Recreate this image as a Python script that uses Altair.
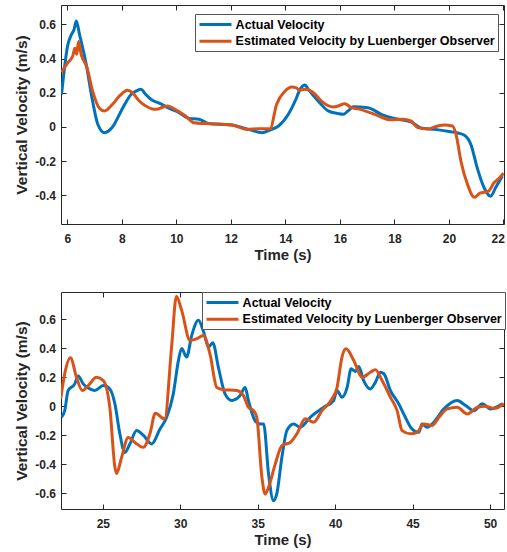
import altair as alt
import pandas as pd

SERIES = ["Actual Velocity", "Estimated Velocity by Luenberger Observer"]
BLUE = "#0072BD"
ORANGE = "#D95319"

# ---------------- top panel ----------------
top_actual_t = [5.79, 6.02, 6.15, 6.25, 6.33, 6.45, 6.69, 6.93, 7.12, 7.36, 7.66, 8.03, 8.34, 8.52,
                8.70, 8.88, 9.12, 9.37, 9.73, 10.10, 10.46, 10.83, 11.19, 12.04, 12.65, 13.14, 13.5,
                13.75, 14.11, 14.36, 14.54, 14.72, 14.84, 15.2, 15.57, 15.94, 16.12, 16.3, 16.49,
                17.03, 17.52, 18.0, 18.61, 18.98, 19.47, 19.95, 20.33, 20.57, 20.8, 21.04, 21.29,
                21.53, 21.71, 21.96]
top_actual_v = [0.19, 0.48, 0.54, 0.57, 0.62, 0.54, 0.37, 0.15, 0.016, -0.033, 0.0, 0.11, 0.19, 0.21,
                0.22, 0.19, 0.156, 0.14, 0.11, 0.084, 0.05, 0.045, 0.02, 0.012, -0.014, -0.033, -0.014,
                0.006, 0.074, 0.152, 0.22, 0.245, 0.22, 0.152, 0.094, 0.078, 0.074, 0.094, 0.118,
                0.113, 0.074, 0.05, 0.03, -0.006, -0.014, -0.025, -0.035, -0.048, -0.1, -0.24, -0.355,
                -0.405, -0.355, -0.286]

top_est_t = [5.79, 6.02, 6.2, 6.28, 6.35, 6.41, 6.51, 6.72, 6.93, 7.18, 7.36, 7.66, 7.91, 8.21, 8.39,
             8.64, 8.88, 9.25, 9.67, 9.98, 10.34, 10.65, 11.07, 12.04, 12.6, 13.0, 13.44, 13.68, 13.99,
             14.23, 14.42, 14.5, 14.72, 15.03, 15.33, 15.76, 15.94, 16.18, 16.42, 16.67, 17.28, 17.85,
             18.3, 18.61, 18.86, 19.22, 19.59, 19.83, 20.13, 20.26, 20.44, 20.68, 20.93, 21.14, 21.45,
             21.66, 21.84, 22.0]
top_est_v = [0.32, 0.376, 0.415, 0.46, 0.425, 0.50, 0.425, 0.35, 0.21, 0.11, 0.094, 0.133, 0.18, 0.215,
             0.20, 0.152, 0.123, 0.103, 0.123, 0.10, 0.064, 0.025, 0.02, 0.012, -0.014, -0.01, -0.01,
             0.133, 0.21, 0.234, 0.227, 0.215, 0.22, 0.20, 0.15, 0.117, 0.123, 0.136, 0.113, 0.106,
             0.074, 0.042, 0.045, 0.035, -0.004, -0.012, 0.006, 0.012, 0.006, -0.043, -0.2, -0.335,
             -0.41, -0.387, -0.375, -0.325, -0.30, -0.27]

# ---------------- bottom panel ----------------
bot_actual_t = [22.33, 22.54, 22.76, 23.19, 23.41, 23.73, 24.16, 24.48, 25.03, 25.45, 25.78, 26.1, 26.42,
                26.75, 27.18, 27.61, 28.15, 28.69, 29.12, 29.55, 29.88, 30.09, 30.41, 30.74, 31.17,
                31.49, 31.82, 32.1, 32.46, 32.89, 33.33, 33.86, 34.19, 34.4, 34.83, 35.16, 35.38, 35.7,
                36.02, 36.24, 36.56, 36.88, 37.32, 37.74, 38.39, 39.26, 39.9, 40.12, 40.44, 40.77,
                41.03, 41.3, 41.52, 41.84, 42.27, 42.6, 42.92, 43.14, 43.57, 44.1, 44.53, 44.96, 45.4,
                45.61, 45.93, 46.37, 47.02, 47.88, 48.42, 48.96, 49.5, 50.03, 50.79]
bot_actual_v = [-0.076, -0.03, 0.109, 0.155, 0.21, 0.155, 0.12, 0.109, 0.143, 0.12, 0.017, -0.19, -0.32,
                -0.26, -0.168, -0.2, -0.26, -0.157, -0.076, 0.086, 0.316, 0.4, 0.34, 0.49, 0.594,
                0.52, 0.41, 0.44, 0.27, 0.086, 0.04, 0.074, 0.13, 0.04, -0.1, -0.122, -0.122, -0.468,
                -0.653, -0.6, -0.353, -0.168, -0.122, -0.145, -0.076, -0.007, 0.04, 0.109, 0.062, 0.13,
                0.259, 0.24, 0.275, 0.178, 0.12, 0.166, 0.235, 0.225, 0.109, 0.017, -0.076, -0.157,
                -0.18, -0.122, -0.145, -0.11, -0.018, 0.04, 0.005, -0.03, 0.017, -0.018, 0.017]

bot_est_t = [22.28, 22.54, 22.91, 23.3, 23.67, 24.06, 24.59, 25.03, 25.45, 25.78, 25.89, 26.21, 26.64,
             27.07, 27.61, 28.04, 28.39, 28.99, 29.44, 29.75, 30.09, 30.63, 31.06, 31.49, 31.92, 32.36,
             32.79, 33.65, 34.08, 34.4, 34.73, 34.94, 35.27, 35.48, 35.7, 36.13, 36.56, 37.1, 37.53,
             38.07, 38.61, 39.15, 39.79, 40.12, 40.44, 40.7, 41.2, 41.74, 42.27, 42.6, 43.03, 43.57,
             44.0, 44.32, 44.86, 45.29, 45.72, 46.27, 46.7, 47.24, 47.88, 48.53, 49.18, 49.71, 50.26,
             50.9]
bot_est_v = [0.05, 0.225, 0.335, 0.2, 0.109, 0.143, 0.2, 0.178, -0.007, -0.42, -0.464, -0.353, -0.215,
             -0.25, -0.284, -0.19, -0.048, -0.087, 0.41, 0.76, 0.663, 0.455, 0.467, 0.49, 0.36, 0.13,
             0.115, 0.109, 0.074, -0.007, -0.03, -0.076, -0.49, -0.607, -0.56, -0.4, -0.272, -0.25,
             -0.19, -0.087, -0.11, -0.03, 0.05, 0.13, 0.34, 0.397, 0.317, 0.2, 0.235, 0.252, 0.178,
             0.062, -0.03, -0.168, -0.19, -0.18, -0.122, -0.133, -0.076, -0.018, -0.007, -0.053,
             -0.007, 0.0, -0.014, 0.017]

top_xticks = [6, 8, 10, 12, 14, 16, 18, 20, 22]
top_yticks = [-0.4, -0.2, 0, 0.2, 0.4, 0.6]
bot_xticks = [25, 30, 35, 40, 45, 50]
bot_yticks = [-0.6, -0.4, -0.2, 0, 0.2, 0.4, 0.6]

FONT = "Liberation Sans"
INK = "#262626"


def panel(at, av, et, ev, xdom, ydom, xticks, yticks, lx, ly, w, h):
    df = pd.concat([
        pd.DataFrame({"t": at, "v": av, "s": SERIES[0]}),
        pd.DataFrame({"t": et, "v": ev, "s": SERIES[1]}),
    ], ignore_index=True)
    xs = alt.Scale(domain=xdom, nice=False, zero=False)
    ys = alt.Scale(domain=ydom, nice=False, zero=False)
    lines = alt.Chart(df).mark_line(strokeWidth=3, interpolate="monotone", clip=True).encode(
        x=alt.X("t:Q", scale=xs, title="Time (s)",
                axis=alt.Axis(values=xticks, orient="bottom", offset=-5, tickSize=5, domain=False,
                              labelPadding=9, labelFlush=2, labelFlushOffset=1,
                              labelOverlap=False,
                              labelExpr="toString(datum.value)", titlePadding=3,
                              titleFontSize=15)),
        y=alt.Y("v:Q", scale=ys, title="Vertical Velocity (m/s)",
                axis=alt.Axis(values=yticks, orient="left", offset=-5, tickSize=5, domain=False,
                              labelPadding=5.5, labelFlush=False, labelOverlap=False,
                              labelExpr="toString(datum.value)", titlePadding=5,
                              titleFontSize=15.5)),
        color=alt.Color("s:N", scale=alt.Scale(domain=SERIES, range=[BLUE, ORANGE]),
                        legend=alt.Legend(title=None, orient="none", legendX=lx, legendY=ly,
                                          direction="vertical", symbolType="M-1,0H4.33",
                                          symbolSize=144, symbolStrokeWidth=3,
                                          labelFont=FONT, labelFontWeight="bold",
                                          labelFontSize=12.5, labelColor="#000000",
                                          labelOffset=22.6, fillColor="white",
                                          strokeColor="#555555", padding=3, rowPadding=2.7,
                                          labelLimit=400)),
    )
    ticks = alt.Chart(df).mark_line(opacity=0).encode(
        x=alt.X("t:Q", scale=xs, title=None,
                axis=alt.Axis(values=xticks, orient="top", offset=-5, tickSize=5, domain=False,
                              labels=False)),
        y=alt.Y("v:Q", scale=ys, title=None,
                axis=alt.Axis(values=yticks, orient="right", offset=-5, tickSize=5, domain=False,
                              labels=False)),
    )
    return alt.layer(lines, ticks).resolve_scale(x="independent", y="independent").resolve_axis(
        x="independent", y="independent").properties(width=w, height=h)


top = panel(top_actual_t, top_actual_v, top_est_t, top_est_v, [5.77, 22.02], [-0.567, 0.713],
            top_xticks, top_yticks, 134, 9, 443, 219)
bottom = panel(bot_actual_t, bot_actual_v, bot_est_t, bot_est_v, [22.3, 50.9], [-0.71, 0.79],
               bot_xticks, bot_yticks, 141, 0, 443, 217)

chart = alt.vconcat(top, bottom, spacing=28).resolve_scale(color="independent").resolve_legend(
    color="independent").properties(
    padding={"left": 14, "top": 4, "right": 0, "bottom": 0},
    background="white",
).configure_view(stroke=INK, strokeWidth=1).configure_axis(
    labelFont=FONT, labelFontWeight="bold", labelFontSize=12, labelColor=INK,
    titleFont=FONT, titleFontWeight="bold", titleColor=INK,
    tickColor=INK, tickWidth=1, grid=False,
)

chart.save("out.html", embed_options={"renderer": "svg", "actions": False})
